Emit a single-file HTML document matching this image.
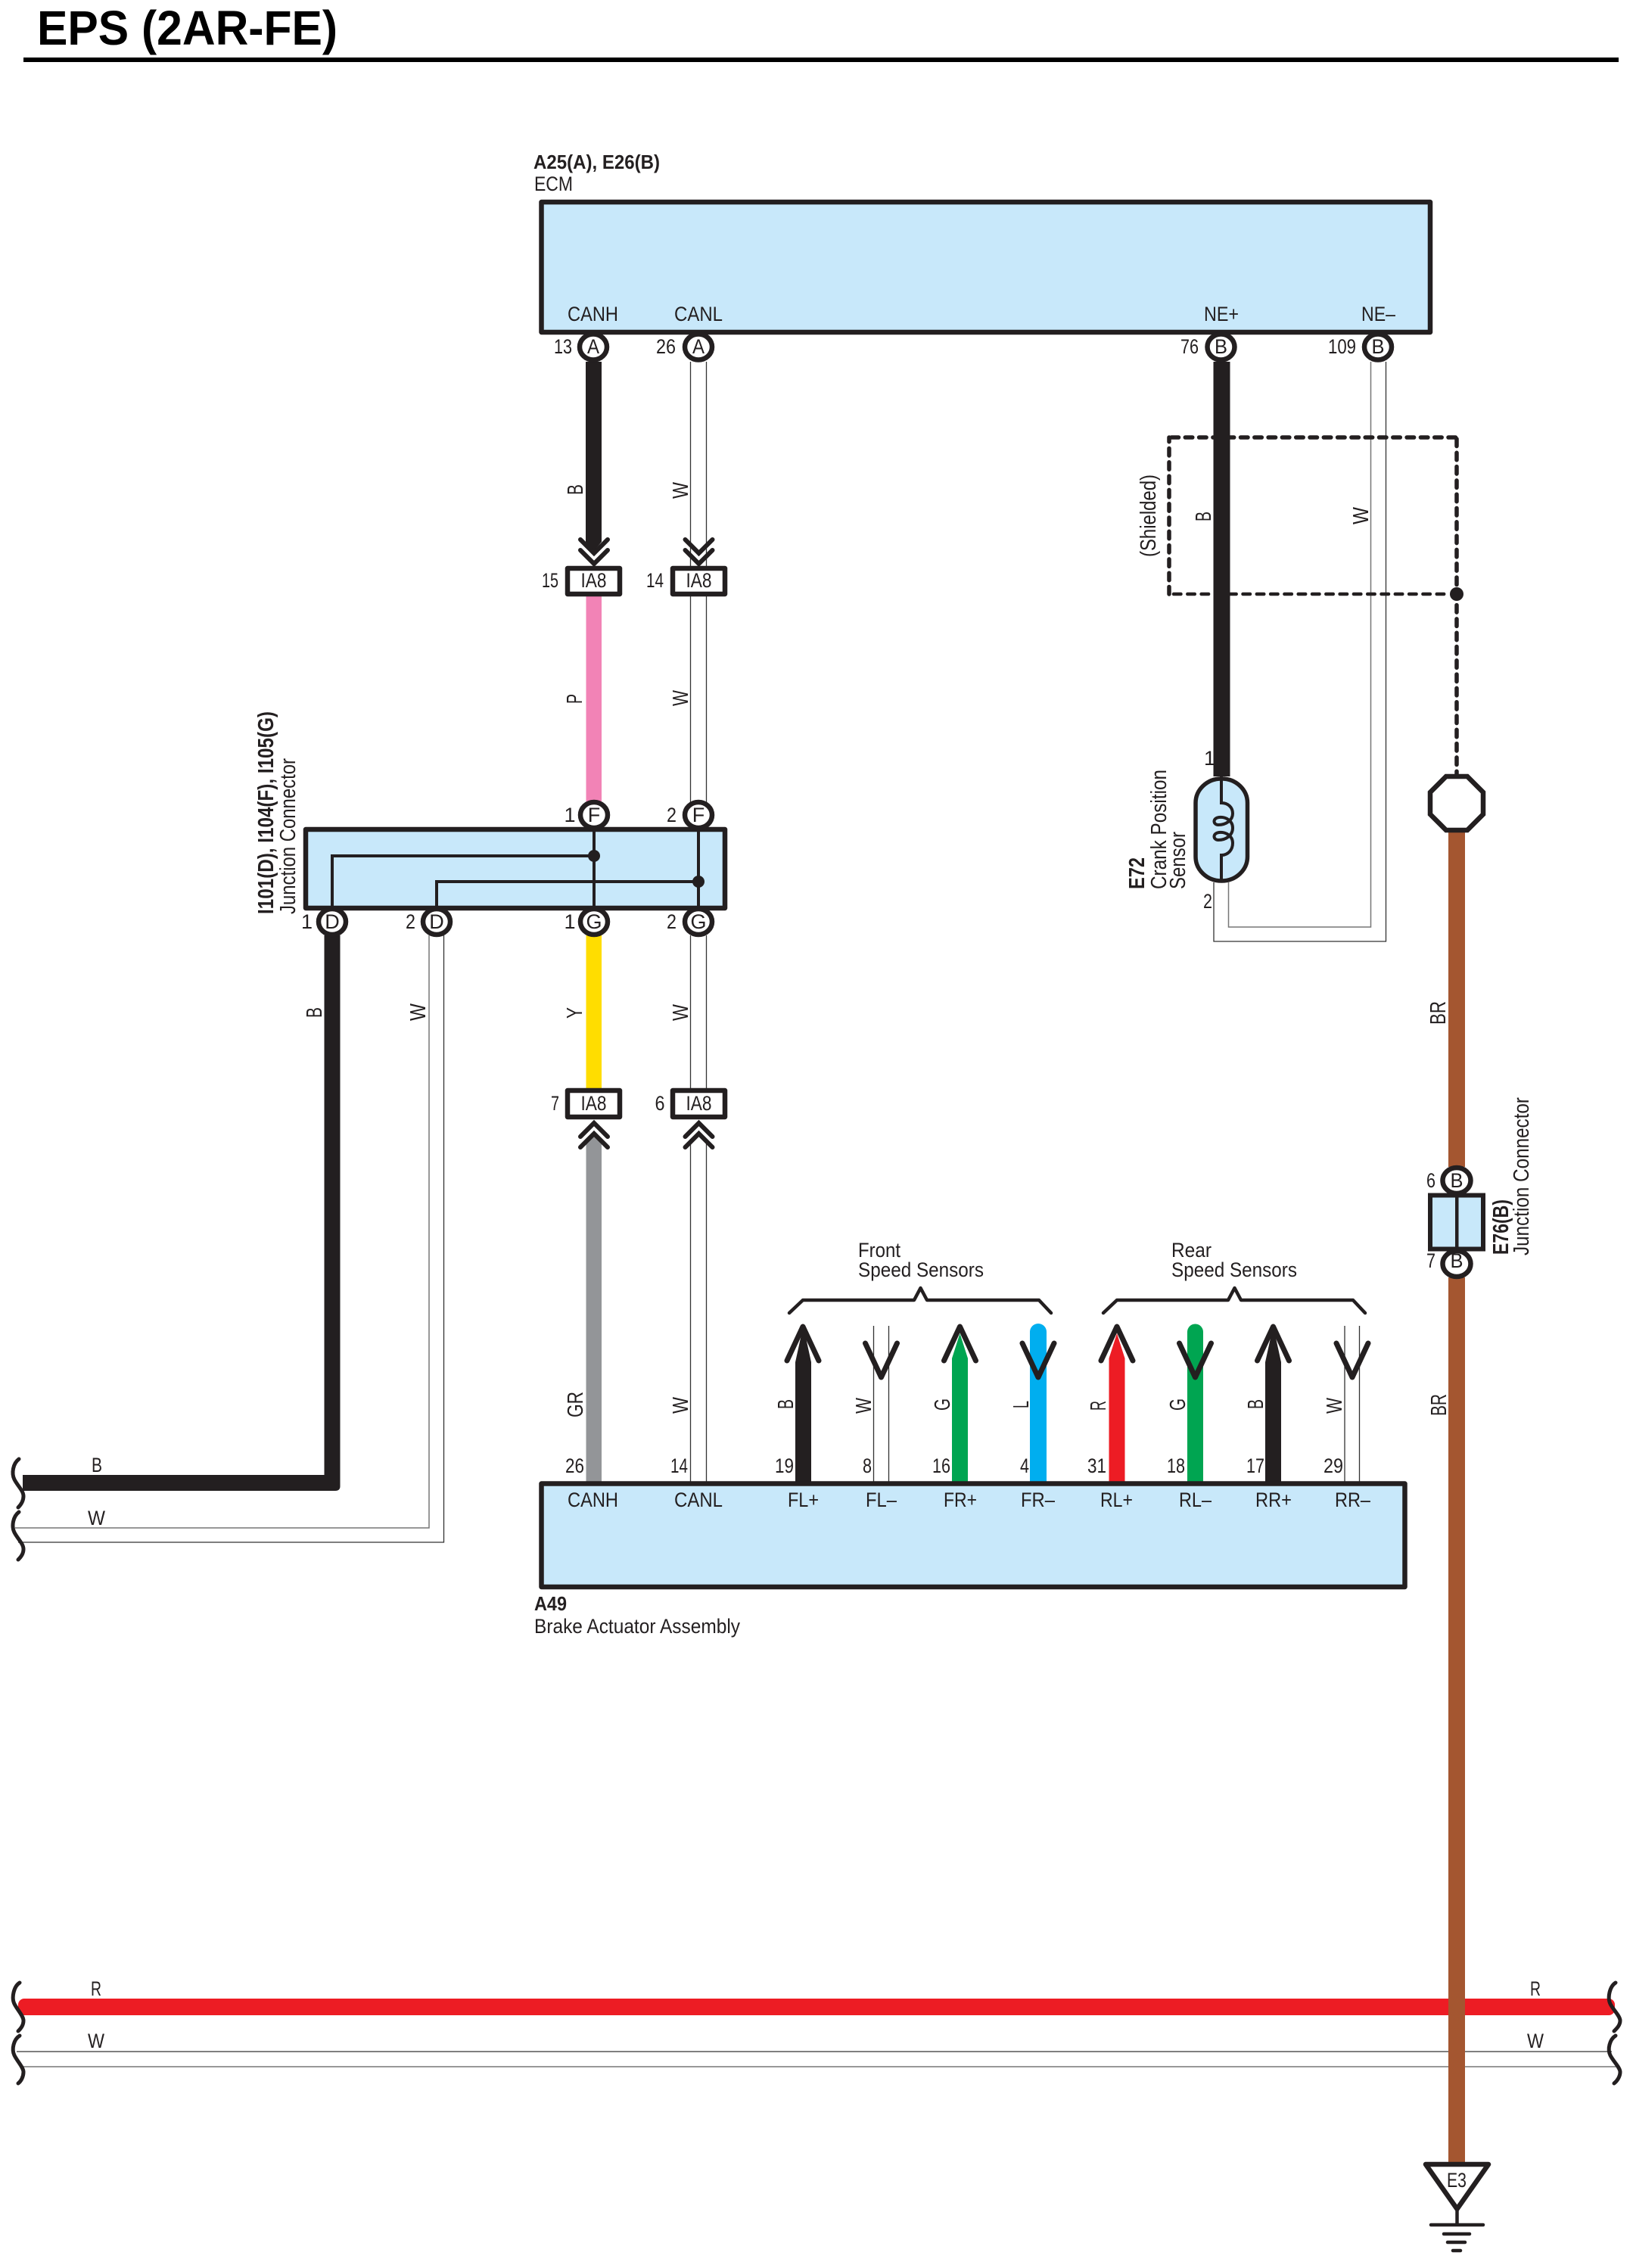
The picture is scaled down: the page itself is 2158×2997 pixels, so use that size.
<!DOCTYPE html>
<html><head><meta charset="utf-8"><title>EPS (2AR-FE)</title>
<style>
html,body{margin:0;padding:0;background:#fff}
svg{display:block}
text{font-family:"Liberation Sans",sans-serif;fill:#231f20;font-size:27px;stroke:none}
.b{font-weight:bold;font-size:26px}
.v{font-size:29px}
.m{text-anchor:middle}
.w1{stroke:#333;stroke-width:1.3;fill:none}
.w2{stroke:#777;stroke-width:1.5;fill:none}
.k{stroke:#231f20;fill:none}
.box{fill:#c8e8fa;stroke:#231f20;stroke-width:6.5;stroke-linejoin:round}
.c{fill:#fff;stroke:#231f20;stroke-width:6.5}
.ia{fill:#fff;stroke:#231f20;stroke-width:6.5;stroke-linejoin:round}
.chev{stroke:#231f20;stroke-width:6;fill:none;stroke-linecap:round;stroke-linejoin:miter}
.arr{stroke:#231f20;stroke-width:7;fill:none;stroke-linecap:round;stroke-linejoin:round}
.sq{stroke:#231f20;stroke-width:5;fill:none;stroke-linecap:round}
.dash{stroke:#231f20;fill:none;stroke-linecap:round;stroke-dasharray:9.5 8.8}
</style></head><body>
<svg xmlns="http://www.w3.org/2000/svg" width="2158" height="2997" viewBox="0 0 2158 2997">
<rect width="2158" height="2997" fill="#fff"/>

<!-- title -->
<text x="49" y="59" style="font-weight:bold;font-size:64px;fill:#000" textLength="397" lengthAdjust="spacingAndGlyphs">EPS (2AR-FE)</text>
<rect x="31" y="76" width="2108" height="6" fill="#000"/>

<!-- wires top -->
<polygon points="774,478 795,478 795,716 785,728 774,716" fill="#231f20"/>
<path class="w1" d="M912.5 478V748M933.5 478V748"/>
<rect x="774.5" y="786" width="20.5" height="276" fill="#f283b6"/>
<path class="w1" d="M912.5 786V1060M933.5 786V1060"/>
<rect x="774.5" y="1236" width="20.5" height="204" fill="#ffdd00"/>
<path class="w1" d="M912.5 1236V1440M933.5 1236V1440"/>
<polygon points="774.5,1960 774.5,1512 785,1501 795,1512 795,1960" fill="#939598"/>
<path class="w1" d="M912.5 1505V1958M933.5 1505V1958"/>

<!-- NE wires -->
<path class="w2" d="M1623.5 1166V1225H1811.5V478"/>
<path class="w1" d="M1604 1166V1244H1831.5V478"/>

<!-- left bottom harness -->
<path class="w1" d="M586.5 1236V2038H24"/>
<path class="w2" d="M567 1236V2019H20"/>
<path d="M428.5 1236H449.5V1964Q449.5 1970 443 1970H30V1949H428.5Z" fill="#231f20"/>

<!-- horizontal bus -->
<rect x="24" y="2641" width="2110" height="22" rx="8" fill="#ed1c24"/>
<path class="w1" d="M22 2711H2130"/>
<path class="w2" d="M26 2731H2136"/>

<!-- shield -->
<path class="dash" stroke-width="5.5" d="M1545 785V578"/>
<path class="dash" stroke-width="5.5" d="M1548 578H1925"/>
<path class="dash" stroke-width="5.5" d="M1925 580V1023"/>
<path class="dash" stroke-width="4.5" d="M1551 785H1915"/>
<rect x="1603.5" y="478" width="22" height="548" fill="#231f20"/>
<circle cx="1925" cy="785" r="9" fill="#231f20"/>

<!-- BR wire -->
<rect x="1914" y="1098" width="22" height="444" fill="#a45630"/>
<rect x="1914" y="1688" width="22" height="1170" fill="#a45630"/>

<!-- ECM -->
<rect class="box" x="715.5" y="267" width="1174.5" height="172"/>
<text x="705" y="223" class="b" textLength="167" lengthAdjust="spacingAndGlyphs">A25(A), E26(B)</text>
<text x="706" y="252" textLength="51" lengthAdjust="spacingAndGlyphs">ECM</text>
<text x="750" y="424" textLength="67" lengthAdjust="spacingAndGlyphs">CANH</text>
<text x="891" y="424" textLength="64" lengthAdjust="spacingAndGlyphs">CANL</text>
<text x="1591" y="424" textLength="46" lengthAdjust="spacingAndGlyphs">NE+</text>
<text x="1799" y="424" textLength="45" lengthAdjust="spacingAndGlyphs">NE–</text>
<ellipse class="c" cx="784" cy="458.5" rx="18" ry="17"/>
<ellipse class="c" cx="923" cy="458.5" rx="18" ry="17"/>
<ellipse class="c" cx="1613.5" cy="458.5" rx="18" ry="17"/>
<ellipse class="c" cx="1821" cy="458.5" rx="18" ry="17"/>
<text x="784" y="467" class="m" textLength="16" lengthAdjust="spacingAndGlyphs">A</text>
<text x="923" y="467" class="m" textLength="16" lengthAdjust="spacingAndGlyphs">A</text>
<text x="1613.5" y="467" class="m" textLength="17" lengthAdjust="spacingAndGlyphs">B</text>
<text x="1821" y="467" class="m" textLength="17" lengthAdjust="spacingAndGlyphs">B</text>
<text x="732" y="467" textLength="24" lengthAdjust="spacingAndGlyphs">13</text>
<text x="867" y="467" textLength="26" lengthAdjust="spacingAndGlyphs">26</text>
<text x="1560" y="467" textLength="24" lengthAdjust="spacingAndGlyphs">76</text>
<text x="1755" y="467" textLength="37" lengthAdjust="spacingAndGlyphs">109</text>

<!-- top chevrons + IA8 -->
<path class="chev" d="M767 713L785 731L803 713M767 727L785 745L803 727"/>
<path class="chev" d="M905.5 713L923.5 731L941.5 713M905.5 727L923.5 745L941.5 727"/>
<rect class="ia" x="750" y="751" width="69" height="34"/>
<rect class="ia" x="889" y="751" width="69" height="34"/>
<text x="784.5" y="776" class="m" textLength="34" lengthAdjust="spacingAndGlyphs">IA8</text>
<text x="923.5" y="776" class="m" textLength="34" lengthAdjust="spacingAndGlyphs">IA8</text>
<text x="716" y="776" textLength="22" lengthAdjust="spacingAndGlyphs">15</text>
<text x="854" y="776" textLength="23" lengthAdjust="spacingAndGlyphs">14</text>

<!-- Junction -->
<rect class="box" x="404" y="1096" width="554" height="104"/>
<path class="k" stroke-width="4" d="M785 1096V1200M923 1096V1200M439 1200V1131H785M577 1200V1165H923"/>
<circle cx="785" cy="1131" r="8" fill="#231f20"/>
<circle cx="923" cy="1165" r="8" fill="#231f20"/>
<ellipse class="c" cx="785" cy="1077" rx="18" ry="17"/>
<ellipse class="c" cx="923" cy="1077" rx="18" ry="17"/>
<ellipse class="c" cx="439" cy="1218" rx="18" ry="17"/>
<ellipse class="c" cx="577" cy="1218" rx="18" ry="17"/>
<ellipse class="c" cx="785" cy="1218" rx="18" ry="17"/>
<ellipse class="c" cx="923" cy="1218" rx="18" ry="17"/>
<text x="785" y="1086" class="m">F</text><text x="923" y="1086" class="m">F</text>
<text x="439" y="1227" class="m">D</text><text x="577" y="1227" class="m">D</text>
<text x="785" y="1227" class="m">G</text><text x="923" y="1227" class="m">G</text>
<text x="745.5" y="1086">1</text><text x="881" y="1086" textLength="13" lengthAdjust="spacingAndGlyphs">2</text>
<text x="398" y="1227">1</text><text x="536" y="1227" textLength="13" lengthAdjust="spacingAndGlyphs">2</text>
<text x="745.5" y="1227">1</text><text x="881" y="1227" textLength="13" lengthAdjust="spacingAndGlyphs">2</text>
<text class="v" transform="translate(361,1208) rotate(-90)" style="font-weight:bold" textLength="268" lengthAdjust="spacingAndGlyphs">I101(D), I104(F), I105(G)</text>
<text class="v" transform="translate(390,1208) rotate(-90)" textLength="206" lengthAdjust="spacingAndGlyphs">Junction Connector</text>

<!-- bottom IA8 -->
<rect class="ia" x="750" y="1441" width="69" height="35"/>
<rect class="ia" x="889" y="1441" width="69" height="35"/>
<text x="784.5" y="1467" class="m" textLength="34" lengthAdjust="spacingAndGlyphs">IA8</text>
<text x="923.5" y="1467" class="m" textLength="34" lengthAdjust="spacingAndGlyphs">IA8</text>
<text x="728" y="1467" textLength="11" lengthAdjust="spacingAndGlyphs">7</text>
<text x="865.5" y="1467" textLength="13" lengthAdjust="spacingAndGlyphs">6</text>
<path class="chev" d="M767 1502L785 1484L803 1502M767 1516L785 1498L803 1516"/>
<path class="chev" d="M905.5 1502L923.5 1484L941.5 1502M905.5 1516L923.5 1498L941.5 1516"/>

<!-- Speed sensor wires -->
<polygon points="1051,1960 1051,1800 1061.5,1752 1072,1800 1072,1960" fill="#231f20"/>
<path class="w1" d="M1154.5 1752V1958M1174.5 1752V1958"/>
<polygon points="1258,1960 1258,1795 1268.5,1762 1279,1795 1279,1960" fill="#00a551"/>
<line x1="1372" y1="1760" x2="1372" y2="1960" stroke="#00aeef" stroke-width="22" stroke-linecap="round"/>
<polygon points="1465.5,1960 1465.5,1795 1476,1762 1486.5,1795 1486.5,1960" fill="#ed1c24"/>
<line x1="1579.5" y1="1760" x2="1579.5" y2="1960" stroke="#00a551" stroke-width="21" stroke-linecap="round"/>
<polygon points="1672,1960 1672,1800 1682.5,1752 1693,1800 1693,1960" fill="#231f20"/>
<path class="w1" d="M1777 1752V1958M1796.5 1752V1958"/>

<path class="arr" d="M1040 1798L1061 1753L1082 1798"/>
<path class="arr" d="M1143.5 1775L1164.5 1820L1185.5 1775"/>
<path class="arr" d="M1247.5 1798L1268.5 1753L1289.5 1798"/>
<path class="arr" d="M1351 1775L1372 1820L1393 1775"/>
<path class="arr" d="M1455 1798L1476 1753L1497 1798"/>
<path class="arr" d="M1558.5 1775L1579.5 1820L1600.5 1775"/>
<path class="arr" d="M1661.5 1798L1682.5 1753L1703.5 1798"/>
<path class="arr" d="M1766 1775L1787 1820L1808 1775"/>

<!-- brackets -->
<path class="k" stroke-width="4.5" stroke-linecap="round" stroke-linejoin="round" d="M1043 1735L1061 1718H1208L1216.5 1702L1225 1718H1373L1389 1735"/>
<path class="k" stroke-width="4.5" stroke-linecap="round" stroke-linejoin="round" d="M1458 1735L1476 1718H1623L1631.5 1702L1640 1718H1788L1804 1735"/>
<text x="1134" y="1661" textLength="56" lengthAdjust="spacingAndGlyphs">Front</text>
<text x="1134" y="1687" textLength="166" lengthAdjust="spacingAndGlyphs">Speed Sensors</text>
<text x="1548" y="1661" textLength="53" lengthAdjust="spacingAndGlyphs">Rear</text>
<text x="1548" y="1687" textLength="166" lengthAdjust="spacingAndGlyphs">Speed Sensors</text>

<!-- Brake actuator -->
<rect class="box" x="715.5" y="1960.5" width="1141" height="136.5"/>
<text x="750" y="1991" textLength="67" lengthAdjust="spacingAndGlyphs">CANH</text>
<text x="891" y="1991" textLength="64" lengthAdjust="spacingAndGlyphs">CANL</text>
<text x="1041" y="1991" textLength="41" lengthAdjust="spacingAndGlyphs">FL+</text>
<text x="1144" y="1991" textLength="41" lengthAdjust="spacingAndGlyphs">FL–</text>
<text x="1247" y="1991" textLength="44" lengthAdjust="spacingAndGlyphs">FR+</text>
<text x="1349" y="1991" textLength="45" lengthAdjust="spacingAndGlyphs">FR–</text>
<text x="1454" y="1991" textLength="43" lengthAdjust="spacingAndGlyphs">RL+</text>
<text x="1558" y="1991" textLength="43" lengthAdjust="spacingAndGlyphs">RL–</text>
<text x="1659" y="1991" textLength="48" lengthAdjust="spacingAndGlyphs">RR+</text>
<text x="1764" y="1991" textLength="47" lengthAdjust="spacingAndGlyphs">RR–</text>
<text x="706" y="2128" class="b" textLength="43" lengthAdjust="spacingAndGlyphs">A49</text>
<text x="706" y="2158" textLength="272" lengthAdjust="spacingAndGlyphs">Brake Actuator Assembly</text>

<text x="747" y="1946" textLength="25" lengthAdjust="spacingAndGlyphs">26</text>
<text x="886" y="1946" textLength="23" lengthAdjust="spacingAndGlyphs">14</text>
<text x="1024" y="1946" textLength="25" lengthAdjust="spacingAndGlyphs">19</text>
<text x="1140" y="1946" textLength="12" lengthAdjust="spacingAndGlyphs">8</text>
<text x="1232" y="1946" textLength="24" lengthAdjust="spacingAndGlyphs">16</text>
<text x="1348" y="1946" textLength="12" lengthAdjust="spacingAndGlyphs">4</text>
<text x="1437" y="1946" textLength="25" lengthAdjust="spacingAndGlyphs">31</text>
<text x="1542" y="1946" textLength="24" lengthAdjust="spacingAndGlyphs">18</text>
<text x="1647" y="1946" textLength="24" lengthAdjust="spacingAndGlyphs">17</text>
<text x="1749" y="1946" textLength="26" lengthAdjust="spacingAndGlyphs">29</text>

<!-- rotated wire labels -->
<text class="v" transform="translate(770,654) rotate(-90)" textLength="14" lengthAdjust="spacingAndGlyphs">B</text>
<text class="v" transform="translate(909,659) rotate(-90)" textLength="22" lengthAdjust="spacingAndGlyphs">W</text>
<text class="v" transform="translate(769,930) rotate(-90)" textLength="13" lengthAdjust="spacingAndGlyphs">P</text>
<text class="v" transform="translate(909,933) rotate(-90)" textLength="21" lengthAdjust="spacingAndGlyphs">W</text>
<text class="v" transform="translate(769,1346) rotate(-90)" textLength="15" lengthAdjust="spacingAndGlyphs">Y</text>
<text class="v" transform="translate(909,1349) rotate(-90)" textLength="22" lengthAdjust="spacingAndGlyphs">W</text>
<text class="v" transform="translate(425,1345) rotate(-90)" textLength="14" lengthAdjust="spacingAndGlyphs">B</text>
<text class="v" transform="translate(562,1349) rotate(-90)" textLength="23" lengthAdjust="spacingAndGlyphs">W</text>
<text class="v" transform="translate(770,1873) rotate(-90)" textLength="34" lengthAdjust="spacingAndGlyphs">GR</text>
<text class="v" transform="translate(909,1868) rotate(-90)" textLength="22" lengthAdjust="spacingAndGlyphs">W</text>
<text class="v" transform="translate(1048,1862) rotate(-90)" textLength="13" lengthAdjust="spacingAndGlyphs">B</text>
<text class="v" transform="translate(1151,1868) rotate(-90)" textLength="21" lengthAdjust="spacingAndGlyphs">W</text>
<text class="v" transform="translate(1255,1864) rotate(-90)" textLength="16" lengthAdjust="spacingAndGlyphs">G</text>
<text class="v" transform="translate(1359,1861) rotate(-90)" textLength="10" lengthAdjust="spacingAndGlyphs">L</text>
<text class="v" transform="translate(1461,1864) rotate(-90)" textLength="13" lengthAdjust="spacingAndGlyphs">R</text>
<text class="v" transform="translate(1566,1864) rotate(-90)" textLength="16" lengthAdjust="spacingAndGlyphs">G</text>
<text class="v" transform="translate(1669,1862) rotate(-90)" textLength="13" lengthAdjust="spacingAndGlyphs">B</text>
<text class="v" transform="translate(1773,1868) rotate(-90)" textLength="21" lengthAdjust="spacingAndGlyphs">W</text>
<text class="v" transform="translate(1911,1871) rotate(-90)" textLength="29" lengthAdjust="spacingAndGlyphs">BR</text>
<text class="v" transform="translate(1910,1354) rotate(-90)" textLength="31" lengthAdjust="spacingAndGlyphs">BR</text>
<text class="v" transform="translate(1527,736) rotate(-90)" textLength="109" lengthAdjust="spacingAndGlyphs">(Shielded)</text>
<text class="v" transform="translate(1600,689) rotate(-90)" textLength="13" lengthAdjust="spacingAndGlyphs">B</text>
<text class="v" transform="translate(1808,693) rotate(-90)" textLength="23" lengthAdjust="spacingAndGlyphs">W</text>

<!-- sensor -->
<rect x="1580" y="1029" width="68.5" height="135" rx="34" ry="32" fill="#c8e8fa" stroke="#231f20" stroke-width="5.5"/>
<path class="k" stroke-width="4" d="M1614 1026V1061C1623 1061 1629 1067 1629 1075C1629 1084 1620 1090 1610 1090C1603 1090 1602 1081 1611 1080C1619 1079 1629 1084 1629 1094C1629 1104 1620 1110 1610 1110C1603 1110 1602 1101 1611 1100C1619 1099 1629 1104 1629 1114C1629 1123 1623 1130 1614 1130V1166"/>
<text x="1591" y="1011">1</text>
<text x="1590" y="1200" textLength="12" lengthAdjust="spacingAndGlyphs">2</text>
<text class="v" transform="translate(1512,1175) rotate(-90)" style="font-weight:bold" textLength="42" lengthAdjust="spacingAndGlyphs">E72</text>
<text class="v" transform="translate(1541,1175) rotate(-90)" textLength="158" lengthAdjust="spacingAndGlyphs">Crank Position</text>
<text class="v" transform="translate(1566,1175) rotate(-90)" textLength="76" lengthAdjust="spacingAndGlyphs">Sensor</text>

<!-- octagon -->
<polygon points="1911,1026 1939,1026 1960,1047 1960,1076 1939,1097 1911,1097 1890,1076 1890,1047" fill="#fff" stroke="#231f20" stroke-width="6.5"/>

<!-- E76 -->
<rect x="1890" y="1579.5" width="70" height="71" fill="#c8e8fa" stroke="#231f20" stroke-width="6"/>
<rect x="1923" y="1579" width="4.5" height="72" fill="#231f20"/>
<ellipse class="c" cx="1925" cy="1560" rx="18.5" ry="17"/>
<ellipse class="c" cx="1925" cy="1670" rx="18.5" ry="17"/>
<text x="1925" y="1569" class="m" textLength="17" lengthAdjust="spacingAndGlyphs">B</text>
<text x="1925" y="1675" class="m" textLength="17" lengthAdjust="spacingAndGlyphs">B</text>
<text x="1885" y="1569" textLength="12" lengthAdjust="spacingAndGlyphs">6</text>
<text x="1885" y="1675" textLength="12" lengthAdjust="spacingAndGlyphs">7</text>
<text class="v" transform="translate(1993,1658) rotate(-90)" style="font-weight:bold" textLength="73" lengthAdjust="spacingAndGlyphs">E76(B)</text>
<text class="v" transform="translate(2020,1659) rotate(-90)" textLength="209" lengthAdjust="spacingAndGlyphs">Junction Connector</text>

<!-- ground -->
<polygon points="1884,2860 1967,2860 1925.5,2919" fill="#fff" stroke="#231f20" stroke-width="6.5" stroke-linejoin="round"/>
<text x="1925" y="2890" class="m" textLength="26" lengthAdjust="spacingAndGlyphs">E3</text>
<path class="k" stroke-width="4.5" d="M1925.5 2918V2940"/>
<path class="k" stroke-width="4.5" stroke-linecap="round" d="M1891 2940H1960M1908 2952H1942M1913 2963H1936M1920 2974H1930"/>

<!-- squiggles -->
<path class="sq" d="M25 1928C17 1934 15 1947 19 1955C23 1963 31 1970 31 1977C31 1983 28 1988 24 1992"/>
<path class="sq" d="M25 1998C17 2004 15 2017 19 2025C23 2033 31 2040 31 2047C31 2053 28 2057 24 2061"/>
<path class="sq" d="M26 2620C18 2625 15 2640 19 2648C23 2656 31 2664 31 2670C31 2676 28 2680 24 2684"/>
<path class="sq" d="M26 2690C18 2695 15 2708 19 2716C23 2724 31 2732 31 2738C31 2744 28 2750 24 2753"/>
<path class="sq" d="M2135 2620C2127 2625 2124 2640 2128 2648C2132 2656 2141 2664 2141 2670C2141 2676 2137 2680 2133 2684"/>
<path class="sq" d="M2135 2690C2127 2695 2124 2708 2128 2716C2132 2724 2141 2732 2141 2738C2141 2744 2137 2750 2133 2753"/>

<!-- horizontal wire labels -->
<text x="121" y="1945" textLength="14" lengthAdjust="spacingAndGlyphs">B</text>
<text x="116" y="2015" textLength="23" lengthAdjust="spacingAndGlyphs">W</text>
<text x="120" y="2637" textLength="14" lengthAdjust="spacingAndGlyphs">R</text>
<text x="116" y="2706" textLength="22" lengthAdjust="spacingAndGlyphs">W</text>
<text x="2022" y="2637" textLength="14" lengthAdjust="spacingAndGlyphs">R</text>
<text x="2018" y="2706" textLength="22" lengthAdjust="spacingAndGlyphs">W</text>
</svg>
</body></html>
